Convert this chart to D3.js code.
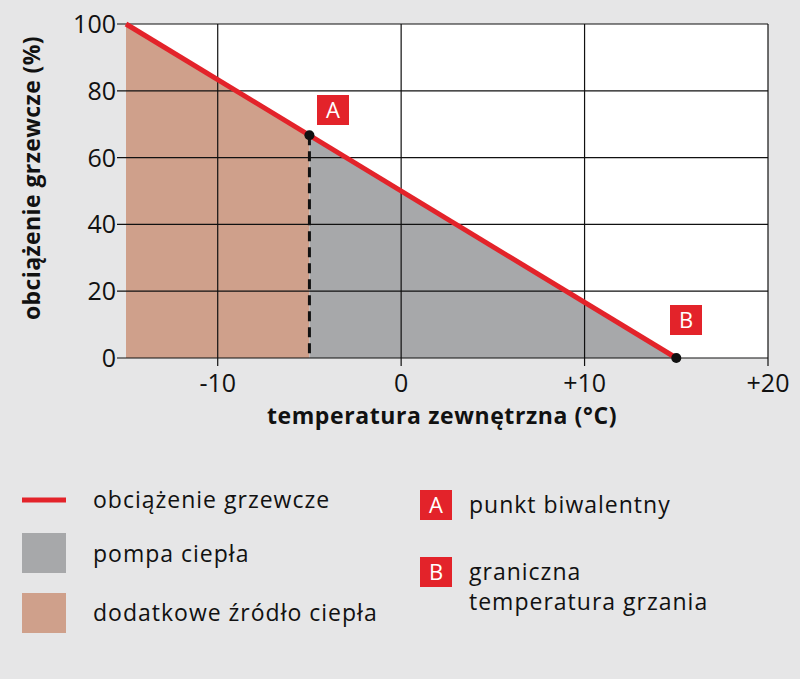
<!DOCTYPE html>
<html><head><meta charset="utf-8">
<script src="https://cdn.jsdelivr.net/npm/d3@7"></script>
<style>body{margin:0;background:#e6e6e7;}svg{display:block;font-family:'Open Sans','Noto Sans',sans-serif;}</style>
</head><body><svg id="c" width="800" height="679"></svg>
<script>
const xTicks=[-10,0,10,20];
const xTickLabels=["-10","0","+10","+20"];
const yTicks=[0,20,40,60,80,100];
const loadLine=[[-15,100],[15,0]];
const bivalent=[-5,66.7];
const limitPt=[15,0];
const legendItems=["obciążenie grzewcze","pompa ciepła","dodatkowe źródło ciepła"];
const markerItems=[["A",["punkt biwalentny"]],["B",["graniczna","temperatura grzania"]]];
const RED="#e3232a",GRAY="#a7a8aa",BROWN="#cfa08b";
const svg=d3.select("#c");
const x=d3.scaleLinear().domain([-15,20]).range([126,768]);
const y=d3.scaleLinear().domain([0,100]).range([358,24]);
svg.append("rect").attr("x",x(-15)).attr("y",y(100)).attr("width",x(20)-x(-15)).attr("height",y(0)-y(100)).attr("fill","#fff");
const lineY=t=>100-(t+15)*100/30;
svg.append("path").attr("fill",BROWN).attr("d",d3.line()([[x(-15),y(100)],[x(-5),y(lineY(-5))],[x(-5),y(0)],[x(-15),y(0)]]));
svg.append("path").attr("fill",GRAY).attr("d",d3.line()([[x(-5),y(lineY(-5))],[x(15),y(0)],[x(-5),y(0)]]));
yTicks.forEach(v=>svg.append("line").attr("x1",x(-15)-9).attr("x2",x(20)).attr("y1",y(v)).attr("y2",y(v)).attr("stroke","#111").attr("stroke-width",1.2));
xTicks.forEach(v=>svg.append("line").attr("x1",x(v)).attr("x2",x(v)).attr("y1",y(100)).attr("y2",y(0)+8).attr("stroke","#111").attr("stroke-width",1.2));
yTicks.forEach(v=>svg.append("text").attr("x",x(-15)-10).attr("y",y(v)+9).attr("text-anchor","end").attr("font-size",25).attr("fill","#111").text(v));
xTicks.forEach((v,i)=>svg.append("text").attr("x",x(v)).attr("y",y(0)+34).attr("text-anchor","middle").attr("font-size",25).attr("fill","#111").text(xTickLabels[i]));
svg.append("line").attr("x1",x(-5)).attr("x2",x(-5)).attr("y1",y(lineY(-5))).attr("y2",y(0)).attr("stroke","#111").attr("stroke-width",3).attr("stroke-dasharray","10,6");
svg.append("path").attr("fill","none").attr("stroke",RED).attr("stroke-width",5).attr("d",d3.line().x(d=>x(d[0])).y(d=>y(d[1]))(loadLine));
[bivalent,limitPt].forEach(p=>svg.append("circle").attr("cx",x(p[0])).attr("cy",y(p[1])).attr("r",5).attr("fill","#111"));
function box(cx,cy,l){svg.append("rect").attr("x",cx-16).attr("y",cy-15).attr("width",32).attr("height",30).attr("fill",RED);
 svg.append("text").attr("x",cx).attr("y",cy+8).attr("text-anchor","middle").attr("font-size",22).attr("fill","#fff").text(l);}
box(333,110,"A");box(686,320,"B");
svg.append("text").attr("x",442).attr("y",424).attr("text-anchor","middle").attr("font-size",23).attr("letter-spacing",0.6).attr("font-weight","bold").attr("fill","#111").text("temperatura zewnętrzna (°C)");
svg.append("text").attr("transform","translate(40,178) rotate(-90)").attr("text-anchor","middle").attr("font-size",23).attr("letter-spacing",0.4).attr("font-weight","bold").attr("fill","#111").text("obciążenie grzewcze (%)");
svg.append("line").attr("x1",22).attr("x2",66).attr("y1",500).attr("y2",500).attr("stroke",RED).attr("stroke-width",5);
svg.append("rect").attr("x",22).attr("y",533).attr("width",44).attr("height",40).attr("fill",GRAY);
svg.append("rect").attr("x",22).attr("y",593).attr("width",44).attr("height",40).attr("fill",BROWN);
[508,562,621].forEach((yy,i)=>svg.append("text").attr("x",93).attr("y",yy).attr("font-size",23).attr("letter-spacing",1).attr("fill","#111").text(legendItems[i]));
markerItems.forEach((m,i)=>{const cy=i?572:505;box(436,cy,m[0]);
 m[1].forEach((t,j)=>svg.append("text").attr("x",469).attr("y",cy+8+j*30).attr("font-size",23).attr("letter-spacing",1).attr("fill","#111").text(t));});
</script></body></html>
